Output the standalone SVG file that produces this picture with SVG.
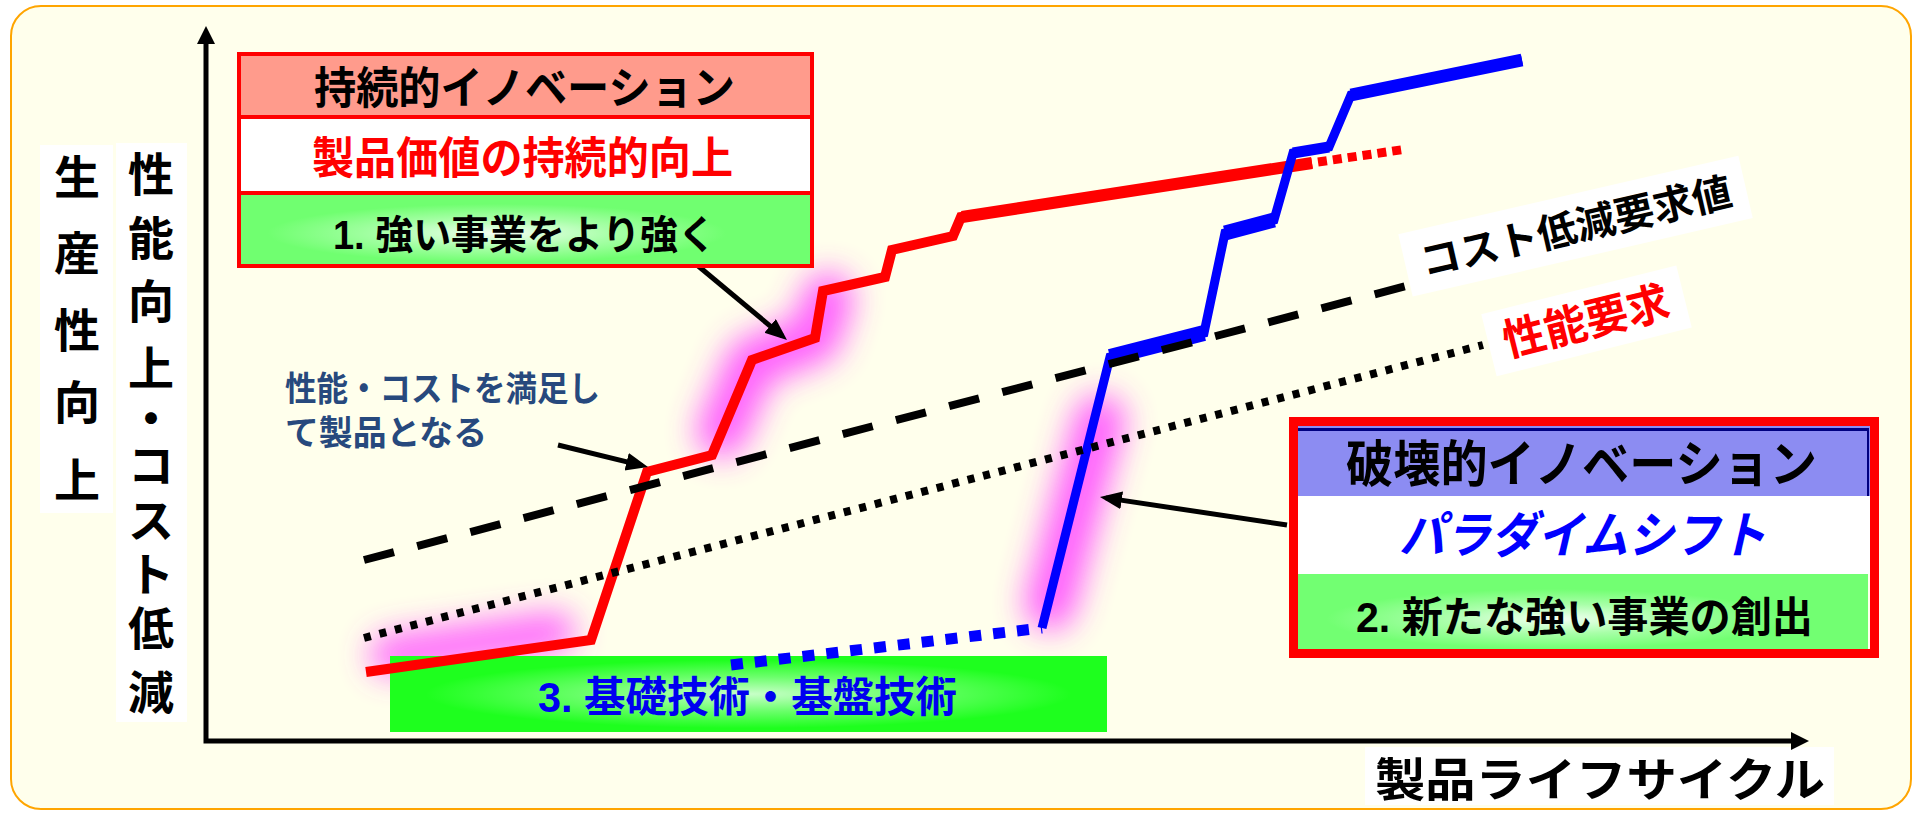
<svg xmlns="http://www.w3.org/2000/svg" width="1916" height="814" viewBox="0 0 1916 814">
<defs>
<style>
.t{font-family:'Liberation Sans','Noto Sans CJK JP',sans-serif;font-weight:bold}
.ax{fill:none;stroke:#000;stroke-width:5;stroke-linejoin:miter}
.arr{fill:none;stroke:#000;stroke-width:5}
.glow{fill:none;stroke:#FF4DFF;stroke-linecap:round;stroke-linejoin:round;filter:url(#blur)}
</style>
<filter id="blur" filterUnits="userSpaceOnUse" x="0" y="0" width="1916" height="814"><feGaussianBlur stdDeviation="16"/></filter>
<marker id="ah" markerUnits="userSpaceOnUse" markerWidth="24" markerHeight="20" refX="16" refY="9" orient="auto"><path d="M0,0 L22,9 L0,18 Z" fill="#000"/></marker>
<marker id="axh" markerUnits="userSpaceOnUse" markerWidth="22" markerHeight="20" refX="12" refY="9" orient="auto-start-reverse"><path d="M0,0 L18,9 L0,18 Z" fill="#000"/></marker>
<radialGradient id="g1" cx="0.45" cy="0.55" r="0.5"><stop offset="0" stop-color="#F4FFF4"/><stop offset="0.4" stop-color="#A8FFA8"/><stop offset="0.8" stop-color="#70FF70"/></radialGradient>
<radialGradient id="g2" cx="0.45" cy="0.6" r="0.5"><stop offset="0" stop-color="#F4FFF4"/><stop offset="0.4" stop-color="#A8FFA8"/><stop offset="0.8" stop-color="#72FF72"/></radialGradient>
<radialGradient id="g3" cx="0.5" cy="0.5" r="0.5"><stop offset="0" stop-color="#C8FFC8"/><stop offset="0.45" stop-color="#6CFF6C"/><stop offset="0.9" stop-color="#1EFF1E"/></radialGradient>
</defs>
<rect width="1916" height="814" fill="#FFFFFF"/>
<rect x="11" y="6" width="1900" height="803" rx="30" fill="#FFFFEC" stroke="#FFA500" stroke-width="2"/>

<g id="glows">
<path class="glow" d="M390,655 L555,632" stroke-width="40" opacity="0.85"/>
<path class="glow" d="M722,432 L752,362 L815,338 L828,298" stroke-width="50" opacity="0.9"/>
<path class="glow" d="M1050,605 L1100,420" stroke-width="50" opacity="0.9"/>
</g>

<g id="axis-labels">
<rect x="40" y="145" width="73" height="368" fill="#FFFFFF"/>
<text class="t" font-size="46" fill="#000" text-anchor="middle" x="77 77 77 77 77" y="194 270 347 419 497">生産性向上</text>
<rect x="116" y="143" width="71" height="579" fill="#FFFFFF"/>
<text class="t" font-size="46" fill="#000" text-anchor="middle" x="151 151 151 151 151 151 151 151 151 151" y="191 255 318 385 435 482 537 591 645 709">性能向上・コスト低減</text>
<rect x="1365" y="747" width="469" height="58" fill="#FFFFFF"/>
<text class="t" font-size="46" fill="#000" x="1375" y="796" textLength="450" lengthAdjust="spacingAndGlyphs">製品ライフサイクル</text>
</g>

<g id="axes">
<path class="ax" d="M206,32 L206,741 L1803,741" marker-start="url(#axh)" marker-end="url(#axh)"/>
</g>

<g id="node-basic">
<rect x="390" y="656" width="717" height="76" fill="url(#g3)"/>
<text class="t" font-size="42" fill="#0000F0" x="538" y="712" textLength="419" lengthAdjust="spacingAndGlyphs">3.  基礎技術・基盤技術</text>
</g>

<g id="connectors">
<polyline points="366,672 591,640 647,472 712,455 752,360 815,338 823,291 885,277 892,250 953,236 961,217 1312,163" fill="none" stroke="#FF0000" stroke-width="10" stroke-linejoin="miter"/>
<line x1="962" y1="217" x2="1312" y2="163" stroke="#FF0000" stroke-width="12"/>
<line x1="1318" y1="162" x2="1407" y2="149" stroke="#FF0000" stroke-width="9" stroke-dasharray="9 6"/>
<line x1="731" y1="665" x2="1042" y2="628" stroke="#0000FF" stroke-width="11" stroke-dasharray="12 12"/>
<polyline points="1042,628 1110,357 1204,333 1225,233 1274,220 1293,153 1329,147 1351,95 1522,60" fill="none" stroke="#0000FF" stroke-width="9" stroke-linejoin="miter"/>
<line x1="1110" y1="357" x2="1204" y2="333" stroke="#0000FF" stroke-width="16"/>
<line x1="1225" y1="233" x2="1274" y2="220" stroke="#0000FF" stroke-width="15"/>
<line x1="1293" y1="153" x2="1329" y2="147" stroke="#0000FF" stroke-width="11"/>
<line x1="1351" y1="95" x2="1522" y2="60" stroke="#0000FF" stroke-width="13"/>
<line x1="364" y1="560" x2="1410" y2="285" stroke="#000" stroke-width="8" stroke-dasharray="31 24"/>
<line x1="364" y1="638" x2="1483" y2="345" stroke="#000" stroke-width="8" stroke-dasharray="7 9"/>
<line class="arr" x1="697" y1="265" x2="782.4" y2="336.2" marker-end="url(#ah)"/>
<line class="arr" x1="558" y1="445" x2="642.2" y2="465.6" marker-end="url(#ah)"/>
<line class="arr" x1="1287" y1="525" x2="1105.9" y2="497.9" marker-end="url(#ah)"/>
</g>

<g id="label-cost">
<g transform="translate(1576,226) rotate(-13)">
<rect x="-175" y="-32" width="349" height="64" fill="#FFFFFF"/>
<text class="t" font-size="40" fill="#000" x="0" y="15" text-anchor="middle" textLength="318" lengthAdjust="spacingAndGlyphs">コスト低減要求値</text>
</g>
</g>
<g id="label-perf">
<g transform="translate(1586,321) rotate(-14)">
<rect x="-100" y="-32" width="201" height="64" fill="#FFFFFF"/>
<text class="t" font-size="44" fill="#FF0000" x="0" y="16" text-anchor="middle" textLength="170" lengthAdjust="spacingAndGlyphs">性能要求</text>
</g>
</g>

<g id="label-product">
<text class="t" font-size="34" fill="#27497D" x="285" y="401" textLength="315" lengthAdjust="spacingAndGlyphs">性能・コストを満足し</text>
<text class="t" font-size="34" fill="#27497D" x="285" y="445" textLength="202" lengthAdjust="spacingAndGlyphs">て製品となる</text>
</g>

<g id="node-sustaining">
<rect x="239" y="54" width="573" height="63" fill="#FF9B8C"/>
<rect x="239" y="117" width="573" height="76" fill="#FFFFFF"/>
<rect x="239" y="193" width="573" height="73" fill="url(#g1)"/>
<rect x="239" y="54" width="573" height="212" fill="none" stroke="#FF0000" stroke-width="4"/>
<line x1="239" y1="117" x2="812" y2="117" stroke="#FF0000" stroke-width="4"/>
<line x1="239" y1="193" x2="812" y2="193" stroke="#FF0000" stroke-width="4"/>
<text class="t" font-size="44" fill="#000" x="314" y="104" textLength="421" lengthAdjust="spacingAndGlyphs">持続的イノベーション</text>
<text class="t" font-size="44" fill="#FF0000" x="312" y="174" textLength="421" lengthAdjust="spacingAndGlyphs">製品価値の持続的向上</text>
<text class="t" font-size="40" fill="#000" x="333" y="249" textLength="383" lengthAdjust="spacingAndGlyphs">1. 強い事業をより強く</text>
</g>

<g id="node-disruptive">
<rect x="1298" y="426" width="572" height="70" fill="#8C8CF2"/>
<line x1="1298" y1="429.5" x2="1869" y2="429.5" stroke="#000080" stroke-width="3"/>
<line x1="1868" y1="428" x2="1868" y2="496" stroke="#000080" stroke-width="2"/>
<rect x="1298" y="496" width="572" height="78" fill="#FFFFFF"/>
<rect x="1298" y="574" width="570" height="75" fill="url(#g2)"/>
<rect x="1293.5" y="421.5" width="581" height="232" fill="none" stroke="#FF0000" stroke-width="9"/>
<text class="t" font-size="50" fill="#000" x="1346" y="482" textLength="471" lengthAdjust="spacingAndGlyphs">破壊的イノベーション</text>
<text class="t" font-size="50" fill="#0000FF" font-style="italic" x="1399" y="553" textLength="367" lengthAdjust="spacingAndGlyphs">パラダイムシフト</text>
<text class="t" font-size="42" fill="#000" x="1356" y="632" textLength="457" lengthAdjust="spacingAndGlyphs">2. 新たな強い事業の創出</text>
</g>
</svg>
